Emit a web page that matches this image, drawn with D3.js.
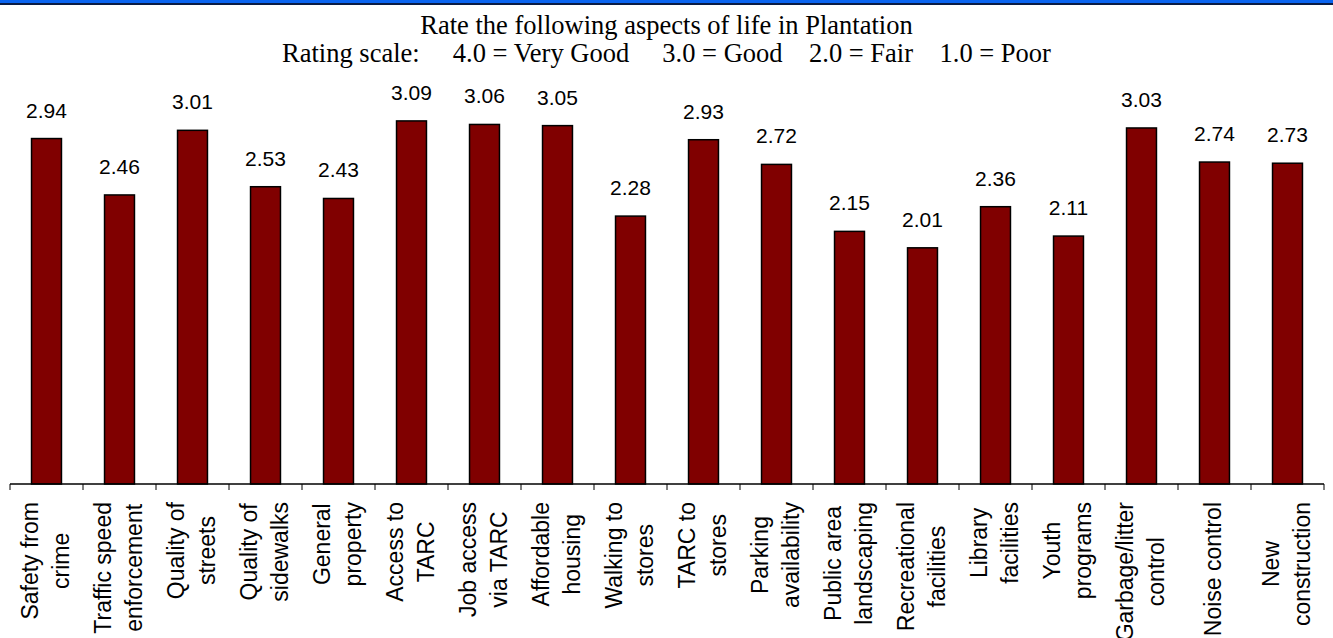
<!DOCTYPE html>
<html>
<head>
<meta charset="utf-8">
<script src="https://cdn.jsdelivr.net/npm/d3@7"></script>
<style>
  body { margin: 0; background: #fff; overflow: hidden; }
  svg { display: block; }
</style>
</head>
<body>
<svg></svg>
<script>
// Chart data
const categories = [
  ["Safety from", "crime"],
  ["Traffic speed", "enforcement"],
  ["Quality of", "streets"],
  ["Quality of", "sidewalks"],
  ["General", "property"],
  ["Access to", "TARC"],
  ["Job access", "via TARC"],
  ["Affordable", "housing"],
  ["Walking to", "stores"],
  ["TARC to", "stores"],
  ["Parking", "availability"],
  ["Public area", "landscaping"],
  ["Recreational", "facilities"],
  ["Library", "facilities"],
  ["Youth", "programs"],
  ["Garbage/litter", "control"],
  ["Noise control"],
  ["New", "construction"]
];
const ratings = [2.94, 2.46, 3.01, 2.53, 2.43, 3.09, 3.06, 3.05, 2.28, 2.93, 2.72, 2.15, 2.01, 2.36, 2.11, 3.03, 2.74, 2.73];
const yDomain = [0, 4];
const titleLines = [
  "Rate the following aspects of life in Plantation",
  "Rating scale:     4.0 = Very Good     3.0 = Good    2.0 = Fair    1.0 = Poor"
];

const W = 1333, H = 638;
const margin = { top: 14, left: 10, right: 9, bottom: 154 };

const svg = d3.select("svg").attr("width", W).attr("height", H);

// Top banner
svg.append("rect").attr("x", 0).attr("y", 0).attr("width", W).attr("height", 4).attr("fill", "#0a64f0");
svg.append("line").attr("x1", 0).attr("x2", W).attr("y1", 4).attr("y2", 4)
  .attr("stroke", "#0b1c45").attr("stroke-width", 2);

// Title
svg.selectAll("text.title")
  .data(titleLines)
  .join("text")
  .attr("class", "title")
  .attr("x", W / 2)
  .attr("y", (d, i) => 34 + i * 28)
  .attr("text-anchor", "middle")
  .style("font-family", "'Liberation Serif', 'Times New Roman', serif")
  .style("font-size", "26.5px")
  .style("white-space", "pre")
  .attr("xml:space", "preserve")
  .text(d => d);

// Scales
const x = d3.scaleBand()
  .domain(d3.range(categories.length))
  .range([margin.left, W - margin.right])
  .padding(0);

const y = d3.scaleLinear()
  .domain(yDomain)
  .range([H - margin.bottom, margin.top]);

const barW = x.bandwidth() * 0.41;
const base = y(0);

// Bars
svg.selectAll("rect.bar")
  .data(ratings)
  .join("rect")
  .attr("class", "bar")
  .attr("x", (d, i) => x(i) + (x.bandwidth() - barW) / 2)
  .attr("y", d => y(d))
  .attr("width", barW)
  .attr("height", d => base - y(d))
  .attr("fill", "#800000")
  .attr("stroke", "#000")
  .attr("stroke-width", 1.5);

// Value labels
svg.selectAll("text.val")
  .data(ratings)
  .join("text")
  .attr("class", "val")
  .attr("x", (d, i) => x(i) + x.bandwidth() / 2)
  .attr("y", d => y(d) - 21)
  .attr("text-anchor", "middle")
  .style("font-family", "'Liberation Sans', Arial, sans-serif")
  .style("font-size", "21px")
  .text(d => d.toFixed(2));

// X axis with ticks at category boundaries
const axis = svg.append("g");
axis.append("line")
  .attr("x1", margin.left).attr("x2", W - margin.right)
  .attr("y1", base).attr("y2", base)
  .attr("stroke", "#000").attr("stroke-width", 1.5);
axis.selectAll("line.tick")
  .data(d3.range(categories.length + 1))
  .join("line")
  .attr("class", "tick")
  .attr("x1", i => margin.left + i * x.step())
  .attr("x2", i => margin.left + i * x.step())
  .attr("y1", base).attr("y2", base + 6)
  .attr("stroke", "#000").attr("stroke-width", 1);

// Category labels, rotated, top aligned below the axis
const lineH = 31;
const fs = 23;
const labelTop = base + 18;
const labels = svg.selectAll("g.cat")
  .data(categories)
  .join("g")
  .attr("class", "cat")
  .attr("transform", (d, i) => `translate(${x(i) + x.bandwidth() / 2},${labelTop}) rotate(-90)`);

labels.each(function(lines) {
  const g = d3.select(this);
  const texts = g.selectAll("text")
    .data(lines)
    .join("text")
    .attr("text-anchor", "middle")
    .style("font-family", "'Liberation Sans', Arial, sans-serif")
    .style("font-size", fs + "px")
    .attr("y", (d, j) => (j - (lines.length - 1) / 2) * lineH + fs * 0.3)
    .text(d => d);
  let maxW = 0;
  texts.each(function() { maxW = Math.max(maxW, this.getComputedTextLength()); });
  texts.attr("x", -maxW / 2);
});
</script>
</body>
</html>
